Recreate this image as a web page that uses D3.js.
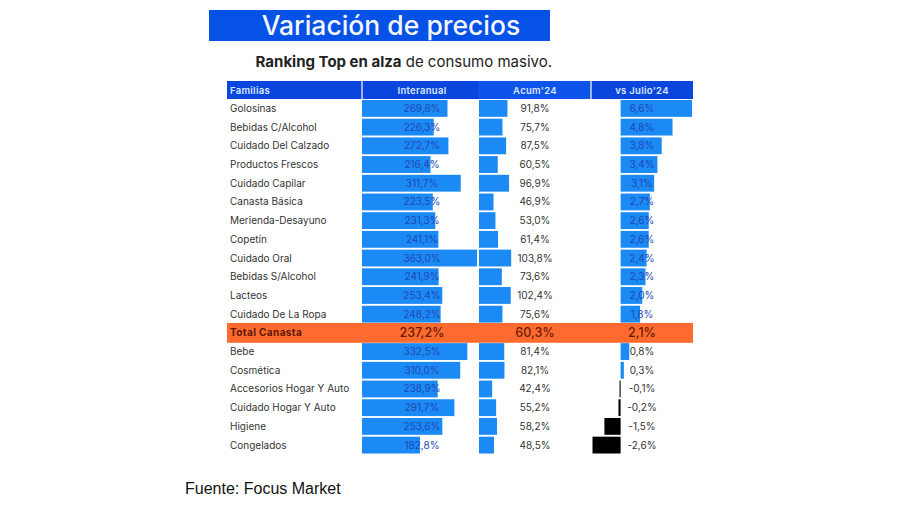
<!DOCTYPE html>
<html>
<head>
<meta charset="utf-8">
<script src="https://cdn.jsdelivr.net/npm/d3@7"></script>
<style>
  body { margin: 0; background: #fff; }
  svg { display: block; }
  text { font-family: Inter, "Noto Sans", sans-serif; }
</style>
</head>
<body>
<div id="chart"></div>
<script>
// rows, top to bottom (Total Canasta is the highlighted summary row)
var familias = ["Golosinas", "Bebidas C/Alcohol", "Cuidado Del Calzado", "Productos Frescos",
  "Cuidado Capilar", "Canasta Básica", "Merienda-Desayuno", "Copetín", "Cuidado Oral",
  "Bebidas S/Alcohol", "Lacteos", "Cuidado De La Ropa", "Total Canasta", "Bebe", "Cosmética",
  "Accesorios Hogar Y Auto", "Cuidado Hogar Y Auto", "Higiene", "Congelados"];
var interanual = [269.8, 226.3, 272.7, 216.4, 311.7, 223.5, 231.3, 241.1, 363.0, 241.9, 253.4,
  248.2, 237.2, 332.5, 310.0, 238.9, 291.7, 253.6, 182.8];
var acum24 = [91.8, 75.7, 87.5, 60.5, 96.9, 46.9, 53.0, 61.4, 103.8, 73.6, 102.4, 75.6, 60.3,
  81.4, 82.1, 42.4, 55.2, 58.2, 48.5];
var vsJulio24 = [6.6, 4.8, 3.8, 3.4, 3.1, 2.7, 2.6, 2.6, 2.4, 2.3, 2.0, 1.8, 2.1, 0.8, 0.3,
  -0.1, -0.2, -1.5, -2.6];
var headers = ["Familias", "Interanual", "Acum'24", "vs Julio'24"];
var totalLabel = "Total Canasta";

var width = 900, height = 505;

var svg = d3.select("#chart").append("svg")
    .attr("width", width)
    .attr("height", height);

var fmt = function(v) { return v.toFixed(1).replace(".", ",") + "%"; };

// title
svg.append("rect")
    .attr("x", 209).attr("y", 10).attr("width", 341).attr("height", 31)
    .attr("fill", "#0651e6");
svg.append("text")
    .attr("x", 391).attr("y", 35)
    .attr("text-anchor", "middle")
    .attr("fill", "#f4f7ff")
    .style("font-size", "26.5px").style("font-weight", 500)
    .text("Variación de precios");

var sub = svg.append("text")
    .attr("x", 552).attr("y", 67)
    .attr("text-anchor", "end")
    .attr("fill", "#222")
    .style("font-size", "15px");
sub.append("tspan").style("font-weight", 700).text("Ranking Top en alza");
sub.append("tspan").text(" de consumo masivo.");

// scales
var y = d3.scaleBand().domain(familias).range([100, 453.5]).paddingInner(0.1);
var xInter = d3.scaleLinear().domain([0, 363]).range([362, 477]);
var xAcum = d3.scaleLinear().domain([0, 100]).range([479, 510]);
var xJul = d3.scaleLinear().domain([-2.6, 6.6]).range([592.5, 692]);

var colX = [230, 422, 535, 642];

// header
var header = svg.append("g");
header.append("rect").attr("x", 227).attr("y", 81).attr("width", 466).attr("height", 18)
    .attr("fill", "#0a46de");
header.append("rect").attr("x", 478).attr("y", 81).attr("width", 113).attr("height", 18)
    .attr("fill", "#0d55ea");
[362, 591].forEach(function(x) {
  header.append("line").attr("x1", x).attr("x2", x).attr("y1", 81).attr("y2", 99)
      .attr("stroke", "#fff").attr("stroke-width", 1.2);
});
header.selectAll("text").data(headers).enter().append("text")
    .attr("x", function(d, i) { return colX[i]; })
    .attr("y", 93.5)
    .attr("text-anchor", function(d, i) { return i === 0 ? "start" : "middle"; })
    .attr("fill", "#dbe6ff")
    .style("font-size", "9.5px").style("font-weight", 600)
    .style("letter-spacing", "0.3px")
    .text(function(d) { return d; });

var rows = familias.map(function(f, i) {
  return { name: f, inter: interanual[i], acum: acum24[i], jul: vsJulio24[i], total: f === totalLabel };
});

var barBlue = "#1b8af5";

// total row band
var totalRow = rows.filter(function(d) { return d.total; })[0];
svg.append("rect")
    .attr("x", 227).attr("y", y(totalRow.name) - 1.5)
    .attr("width", 466).attr("height", y.bandwidth() + 3)
    .attr("fill", "#ff6b2e");

var g = svg.selectAll("g.row").data(rows).enter().append("g").attr("class", "row");

var normal = g.filter(function(d) { return !d.total; });

normal.append("rect")
    .attr("x", xInter(0))
    .attr("y", function(d) { return y(d.name); })
    .attr("width", function(d) { return xInter(d.inter) - xInter(0); })
    .attr("height", y.bandwidth())
    .attr("fill", barBlue);

normal.append("rect")
    .attr("x", xAcum(0))
    .attr("y", function(d) { return y(d.name); })
    .attr("width", function(d) { return xAcum(d.acum) - xAcum(0); })
    .attr("height", y.bandwidth())
    .attr("fill", barBlue);

normal.append("rect")
    .attr("x", function(d) { return Math.min(xJul(0), xJul(d.jul)); })
    .attr("y", function(d) { return y(d.name); })
    .attr("width", function(d) { return Math.max(1, Math.abs(xJul(d.jul) - xJul(0))); })
    .attr("height", y.bandwidth())
    .attr("fill", function(d) { return d.jul < 0 ? "#000" : barBlue; });

var ty = function(d) { return y(d.name) + y.bandwidth() / 2 + 3.5; };

g.append("text")
    .attr("x", colX[0]).attr("y", ty)
    .attr("fill", function(d) { return d.total ? "#5e1706" : "#333"; })
    .style("font-size", "10px")
    .style("font-weight", function(d) { return d.total ? 700 : 400; })
    .style("letter-spacing", function(d) { return d.total ? "0.4px" : "0px"; })
    .text(function(d) { return d.name; });

var valStyle = function(sel, col, key, blueTest) {
  sel.append("text")
      .attr("x", colX[col]).attr("y", function(d) { return d.total ? ty(d) + 0.5 : ty(d); })
      .attr("text-anchor", "middle")
      .attr("fill", function(d) {
        if (d.total) return "#6a1a08";
        return blueTest(d) ? "#2148b0" : "#333";
      })
      .style("font-size", function(d) { return d.total ? "12.5px" : "10px"; })
      .style("font-weight", function(d) { return d.total ? 500 : 400; })
      .text(function(d) { return fmt(d[key]); });
};

valStyle(g, 1, "inter", function() { return true; });
valStyle(g, 2, "acum", function() { return false; });
valStyle(g, 3, "jul", function(d) { return d.jul > 1; });

// source
svg.append("text")
    .attr("x", 185).attr("y", 494)
    .attr("fill", "#111")
    .style("font-family", "'Liberation Sans', Arial, sans-serif")
    .style("font-size", "16px")
    .text("Fuente: Focus Market");
</script>
</body>
</html>
